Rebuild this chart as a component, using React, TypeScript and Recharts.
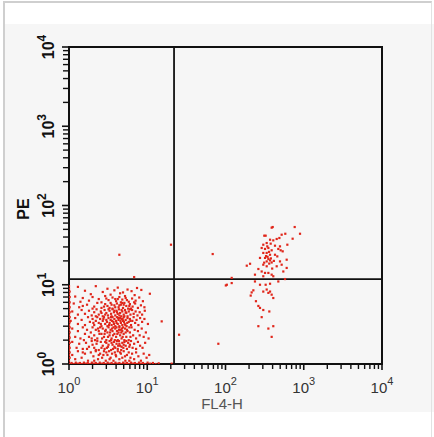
import React from "react";
import {
  ScatterChart,
  Scatter,
  XAxis,
  YAxis,
  ReferenceLine,
  ReferenceArea,
} from "recharts";

// ---------- axis ticks ----------
const decadeTicks = [1, 10, 100, 1000, 10000];
const minorSteps = [2, 3, 4, 5, 6, 7, 8, 9];
const allTicks: number[] = [];
decadeTicks.forEach((d, i) => {
  allTicks.push(d);
  if (i < decadeTicks.length - 1) minorSteps.forEach((m) => allTicks.push(d * m));
});

// ---------- quadrant gates ----------
const gateX = 22;
const gateY = 11.8;

// ---------- events: lower-left (negative) population ----------
const negTop: [number, number][] = [
  [1.3, 9.4], [2.2, 9.6], [3.1, 8.9], [4.2, 9.2], [5.6, 8.7], [7.4, 9.1], [1.6, 8.4], [2.7, 8.1],
  [3.8, 8.5], [4.9, 8.0], [6.3, 8.3], [8.4, 8.6], [10.8, 7.7], [1.9, 7.6], [3.4, 7.5], [4.5, 7.8],
  [5.2, 7.2], [6.9, 7.4],
  [1.2, 7.1], [1.5, 6.8], [2.0, 7.0], [2.4, 6.6], [2.9, 7.2], [3.2, 6.4], [3.6, 6.9], [4.0, 6.2],
  [4.4, 7.0], [4.8, 6.5], [5.3, 6.8], [5.8, 6.1], [6.4, 6.7], [7.1, 6.3], [7.9, 6.9], [8.8, 6.2],
  [1.4, 6.1], [1.8, 6.3], [2.6, 6.0], [3.9, 6.6], [4.6, 6.0], [5.5, 6.4], [6.8, 6.0], [3.0, 6.7],
  [4.2, 6.6],
];

const negUpper: [number, number][] = [
  [1.15, 5.8], [1.35, 5.2], [1.7, 5.6], [2.1, 5.3], [2.3, 5.9], [2.6, 5.1], [2.9, 5.7], [3.1, 5.4],
  [3.4, 5.9], [3.6, 5.0], [3.8, 5.5], [4.1, 5.8], [4.3, 5.2], [4.6, 5.6], [4.9, 5.1], [5.1, 5.9],
  [5.4, 5.4], [5.7, 5.0], [6.0, 5.7], [6.5, 5.3], [7.0, 5.8], [7.6, 5.1], [8.3, 5.5], [9.2, 5.2],
  [2.0, 5.0], [2.8, 5.3], [3.3, 5.1], [4.4, 5.5], [5.0, 5.6], [6.2, 5.0], [1.5, 5.4], [3.9, 5.2],
  [4.8, 5.9], [5.9, 5.4], [3.5, 5.6],
  [1.1, 4.6], [1.3, 4.2], [1.45, 4.8], [1.6, 4.3], [1.8, 4.7], [1.95, 4.1], [2.1, 4.5], [2.25, 4.9],
  [2.4, 4.2], [2.55, 4.6], [2.7, 4.0], [2.85, 4.8], [3.0, 4.4], [3.15, 4.1], [3.3, 4.7], [3.45, 4.3],
  [3.6, 4.9], [3.75, 4.5], [3.9, 4.1], [4.05, 4.7], [4.2, 4.3], [4.35, 4.9], [4.5, 4.4], [4.65, 4.0],
  [4.8, 4.6], [5.0, 4.2], [5.2, 4.8], [5.4, 4.4], [5.6, 4.0], [5.8, 4.6], [6.1, 4.2], [6.4, 4.8],
  [6.7, 4.3], [7.1, 4.6], [7.5, 4.1], [8.0, 4.5], [8.6, 4.2], [9.3, 4.7], [2.2, 4.0], [2.9, 4.2],
  [3.5, 4.0], [4.1, 4.5], [4.7, 4.8], [5.3, 4.5], [6.0, 4.9], [3.2, 4.9], [2.6, 4.4], [4.4, 4.1],
  [5.1, 4.0], [3.8, 4.7],
];

const negMiddle: [number, number][] = [
  [1.05, 3.5], [1.2, 3.8], [1.3, 3.2], [1.45, 3.6], [1.6, 3.1], [1.75, 3.9], [1.85, 3.4], [2.0, 3.7],
  [2.1, 3.1], [2.2, 3.5], [2.3, 3.9], [2.4, 3.3], [2.5, 3.7], [2.6, 3.0], [2.7, 3.5], [2.8, 3.9],
  [2.9, 3.2], [3.0, 3.6], [3.1, 3.0], [3.2, 3.8], [3.3, 3.3], [3.4, 3.6], [3.5, 3.1], [3.6, 3.9],
  [3.7, 3.4], [3.8, 3.7], [3.9, 3.0], [4.0, 3.5], [4.1, 3.9], [4.2, 3.2], [4.3, 3.6], [4.4, 3.0],
  [4.5, 3.8], [4.6, 3.3], [4.7, 3.7], [4.8, 3.1], [4.9, 3.5], [5.0, 3.9], [5.15, 3.2], [5.3, 3.6],
  [5.45, 3.0], [5.6, 3.8], [5.8, 3.4], [6.0, 3.7], [6.2, 3.1], [6.45, 3.5], [6.7, 3.9], [7.0, 3.3],
  [7.3, 3.6], [7.7, 3.1], [8.1, 3.8], [8.6, 3.4], [9.2, 3.7], [10.2, 3.2], [2.05, 3.3], [2.55, 3.2],
  [3.05, 3.4], [3.55, 3.5], [4.05, 3.3], [4.55, 3.5], [5.05, 3.4], [5.55, 3.3], [3.25, 3.1], [3.75, 3.2],
  [4.25, 3.8], [2.75, 3.7], [3.45, 3.9], [4.85, 3.7], [5.25, 3.1], [6.1, 3.5],
  [1.1, 2.8], [1.2, 2.2], [1.3, 2.6], [1.4, 2.1], [1.5, 2.9], [1.6, 2.4], [1.7, 2.7], [1.8, 2.2],
  [1.9, 2.5], [2.0, 2.9], [2.1, 2.3], [2.2, 2.7], [2.3, 2.1], [2.4, 2.6], [2.5, 2.9], [2.6, 2.4],
  [2.7, 2.8], [2.8, 2.2], [2.9, 2.6], [3.0, 2.0], [3.1, 2.5], [3.2, 2.9], [3.3, 2.3], [3.4, 2.7],
  [3.5, 2.1], [3.6, 2.6], [3.7, 2.9], [3.8, 2.4], [3.9, 2.8], [4.0, 2.2], [4.1, 2.6], [4.2, 2.0],
  [4.3, 2.5], [4.4, 2.9], [4.5, 2.3], [4.6, 2.7], [4.7, 2.1], [4.8, 2.6], [4.9, 2.9], [5.0, 2.4],
  [5.2, 2.8], [5.4, 2.2], [5.6, 2.6], [5.8, 2.0], [6.0, 2.5], [6.3, 2.9], [6.6, 2.3], [6.9, 2.7],
  [7.2, 2.1], [7.6, 2.6], [8.0, 2.3], [8.5, 2.8], [9.0, 2.2], [9.6, 2.5], [10.4, 2.1], [2.15, 2.0],
  [2.65, 2.1], [3.15, 2.2], [3.65, 2.3], [4.15, 2.4], [4.65, 2.5], [5.1, 2.0], [5.5, 2.7], [5.9, 2.9],
  [3.35, 2.5], [3.85, 2.0], [2.45, 2.4], [2.95, 2.7], [4.35, 2.7], [4.85, 2.2], [3.55, 2.8], [4.05, 2.9],
  [2.35, 2.8], [5.3, 2.5], [6.1, 2.2], [1.55, 2.0], [1.95, 2.1], [3.45, 2.0], [4.75, 2.8], [2.85, 2.4],
];

const negLower: [number, number][] = [
  [1.1, 1.9], [1.25, 1.6], [1.35, 1.8], [1.5, 1.55], [1.65, 1.85], [1.8, 1.65], [1.95, 1.95], [2.1, 1.6],
  [2.25, 1.8], [2.4, 1.5], [2.55, 1.9], [2.7, 1.7], [2.85, 1.55], [3.0, 1.85], [3.15, 1.65], [3.3, 1.95],
  [3.45, 1.5], [3.6, 1.75], [3.75, 1.9], [3.9, 1.6], [4.05, 1.8], [4.2, 1.55], [4.35, 1.95], [4.5, 1.7],
  [4.65, 1.5], [4.8, 1.85], [4.95, 1.6], [5.1, 1.9], [5.3, 1.7], [5.5, 1.55], [5.7, 1.85], [5.9, 1.65],
  [6.2, 1.95], [6.5, 1.6], [6.8, 1.8], [7.2, 1.55], [7.6, 1.9], [8.1, 1.7], [8.7, 1.6], [9.4, 1.85],
  [2.0, 1.75], [2.6, 1.6], [3.2, 1.75], [3.8, 1.65], [4.4, 1.8], [5.0, 1.75], [2.3, 1.95], [2.9, 1.9],
  [3.5, 1.85], [4.1, 1.95], [4.7, 1.65], [5.4, 1.95], [6.0, 1.75], [1.7, 1.55], [2.2, 1.5], [3.05, 1.6],
  [3.65, 1.55], [4.25, 1.7],
  [1.1, 1.3], [1.2, 1.15], [1.3, 1.45], [1.45, 1.2], [1.6, 1.35], [1.75, 1.1], [1.9, 1.4], [2.05, 1.25],
  [2.2, 1.45], [2.35, 1.15], [2.5, 1.35], [2.65, 1.2], [2.8, 1.45], [2.95, 1.1], [3.1, 1.3], [3.25, 1.45],
  [3.4, 1.2], [3.55, 1.35], [3.7, 1.1], [3.85, 1.4], [4.0, 1.25], [4.2, 1.45], [4.4, 1.15], [4.6, 1.35],
  [4.8, 1.2], [5.0, 1.45], [5.25, 1.1], [5.5, 1.3], [5.8, 1.4], [6.1, 1.2], [6.4, 1.35], [6.8, 1.15],
  [7.2, 1.4], [7.7, 1.25], [8.3, 1.1], [9.0, 1.35], [9.8, 1.2], [10.6, 1.3], [2.1, 1.1], [2.75, 1.3],
  [3.3, 1.15], [3.95, 1.3], [4.5, 1.4], [5.2, 1.25], [5.9, 1.1], [1.5, 1.4], [2.4, 1.3], [3.0, 1.4],
];

// events piled up on the bottom edge and on the left edge
const negFloor: [number, number][] = [
  [1.02, 1.01], [1.08, 1.03], [1.15, 1.0], [1.22, 1.04], [1.3, 1.01], [1.38, 1.03], [1.46, 1.0], [1.55, 1.04],
  [1.64, 1.01], [1.74, 1.03], [1.85, 1.0], [1.96, 1.04], [2.08, 1.01], [2.2, 1.03], [2.33, 1.0], [2.47, 1.04],
  [2.62, 1.01], [2.78, 1.03], [2.95, 1.0], [3.12, 1.04], [3.3, 1.01], [3.5, 1.03], [3.7, 1.0], [3.92, 1.04],
  [4.15, 1.01], [4.4, 1.03], [4.65, 1.0], [4.92, 1.04], [5.2, 1.01], [5.5, 1.03], [5.85, 1.0], [6.2, 1.04],
  [6.55, 1.01], [6.95, 1.03], [7.4, 1.0], [7.85, 1.04], [8.3, 1.01], [8.8, 1.03], [9.4, 1.0], [10.1, 1.04],
  [10.9, 1.01], [11.8, 1.03], [12.8, 1.0], [14.0, 1.02], [20.5, 1.01],
];
const negWall: [number, number][] = [
  [1.0, 1.1], [1.02, 1.2], [1.0, 1.3], [1.02, 1.4], [1.0, 1.5], [1.02, 1.6], [1.0, 1.7], [1.02, 1.85],
  [1.0, 2.0], [1.02, 2.15], [1.0, 2.3], [1.02, 2.5], [1.0, 2.7], [1.02, 2.9], [1.0, 3.1], [1.02, 3.35],
  [1.0, 3.6], [1.02, 3.9], [1.0, 4.2], [1.02, 4.5], [1.0, 4.85], [1.02, 5.2], [1.0, 5.6], [1.02, 6.0],
  [1.0, 6.5], [1.02, 7.0], [1.0, 7.6], [1.02, 8.2], [1.0, 8.9], [1.0, 9.6],
];

// ---------- events: FL4-positive population ----------
const posCluster: [number, number][] = [
  [401, 53.5], [389, 52.5], [766, 53.5], [896, 44], [313, 41.6], [326, 41.6], [522, 42.8], [488, 38.9],
  [451, 37.8], [408, 36.3], [371, 37], [581, 44], [721, 38.1], [617, 32], [304, 32], [336, 33.6],
  [378, 33], [429, 31.1], [497, 30.5], [290, 29.1], [320, 28.3], [353, 29.1], [389, 27.2], [473, 28.3],
  [507, 27.2], [538, 26.4], [304, 25.2], [336, 25.2], [371, 23.9], [429, 23.9], [459, 22.8], [276, 21.8],
  [320, 21.8], [353, 21.1], [371, 20.3], [389, 19.1], [336, 19.7], [497, 19.7], [605, 20.7], [206, 18.4],
  [187, 17.4], [304, 17.9], [336, 17.1], [451, 17.1], [522, 17.9], [605, 16.3], [263, 15.8], [290, 14.7],
  [320, 14.1], [353, 14.1], [389, 13.4], [238, 13.4], [304, 12.8], [408, 12.8], [548, 14.7], [345, 22.5],
  [362, 18.5], [380, 21.5], [330, 23], [395, 16], [415, 20], [360, 26], [342, 30.5], [312, 19],
  [120, 12.2], [120, 10.5], [101, 9.8], [238, 11.0], [276, 10.0], [326, 10.0], [371, 10.3], [473, 11.0],
  [576, 11.8], [227, 8.5], [216, 8.0], [210, 7.3], [304, 8.2], [336, 8.7], [371, 8.2], [389, 7.5],
  [353, 7.9], [408, 6.8], [245, 6.2], [263, 5.4], [276, 5.1], [304, 4.8], [363, 4.6], [290, 3.9],
  [263, 3.0], [353, 2.8], [408, 3.0], [389, 2.2],
];

// ---------- scattered single events ----------
const strayEvents: [number, number][] = [
  [4.4, 23.9], [20.1, 32], [6.8, 12.5], [15.3, 3.45], [25.5, 2.34], [68.6, 24.4], [81, 1.8], [104, 10.0],
];

const toPoints = (arr: [number, number][]) => arr.map(([x, y]) => ({ x, y }));
const allEvents = [
  ...toPoints(negTop),
  ...toPoints(negUpper),
  ...toPoints(negMiddle),
  ...toPoints(negLower),
  ...toPoints(negFloor),
  ...toPoints(negWall),
  ...toPoints(posCluster),
  ...toPoints(strayEvents),
];

const DOT = "#e0261a";

const isDecade = (v: number) => Math.abs(Math.log10(v) - Math.round(Math.log10(v))) < 1e-9;

const XTick = (props: any) => {
  const { x, y, payload } = props;
  const v = payload.value as number;
  const major = isDecade(v);
  const e = Math.round(Math.log10(v));
  return (
    <g>
      <line x1={x} x2={x} y1={y} y2={y + (major ? 6 : 5)} stroke="#111" strokeWidth={major ? 1.6 : 1.4} />
      {major && (
        <text
          x={x}
          y={y + 29}
          textAnchor="middle"
          fontFamily="'Liberation Sans', Arial, sans-serif"
          fontSize={15}
          fill="#333"
        >
          10
          <tspan dy={-8} fontSize={11}>
            {e}
          </tspan>
        </text>
      )}
    </g>
  );
};

const YTick = (props: any) => {
  const { x, y, payload } = props;
  const v = payload.value as number;
  const major = isDecade(v);
  const e = Math.round(Math.log10(v));
  const tx = 54;
  return (
    <g>
      <line x1={x} x2={x - (major ? 7 : 6)} y1={y} y2={y} stroke="#111" strokeWidth={major ? 1.6 : 1.4} />
      {major && (
        <text
          x={tx}
          y={y}
          transform={`rotate(-90, ${tx}, ${y})`}
          textAnchor="middle"
          fontFamily="'Liberation Sans', Arial, sans-serif"
          fontSize={16}
          fontWeight="bold"
          fill="#111"
        >
          10
          <tspan dy={-8} fontSize={12}>
            {e}
          </tspan>
        </text>
      )}
    </g>
  );
};

const DotShape = (props: any) => {
  const { cx, cy } = props;
  if (cx == null || cy == null) return null;
  return <rect x={cx - 1.1} y={cy - 1.1} width={2.2} height={2.2} fill={DOT} />;
};

export default function App() {
  return (
    <div
      style={{
        position: "absolute",
        left: 0,
        top: 0,
        width: 434,
        height: 437,
        background: "#ffffff",
        overflow: "hidden",
      }}
    >
      <div
        style={{
          position: "absolute",
          left: 4,
          top: 24,
          width: 430,
          height: 388,
          background: "#f6f6f6",
        }}
      />
      <div
        style={{
          position: "absolute",
          left: 3,
          top: 1,
          width: 429,
          height: 436,
          borderLeft: "2px solid #cfcfcf",
          borderTop: "2px solid #cfcfcf",
          borderRight: "1px solid #e2e2e2",
          boxSizing: "border-box",
        }}
      />
      <div style={{ position: "absolute", left: 0, top: 0 }}>
        <ScatterChart width={434} height={437} margin={{ top: 47, right: 52, left: 0, bottom: 0 }}>
          <XAxis
            type="number"
            dataKey="x"
            scale="log"
            domain={[1, 10000]}
            allowDataOverflow
            ticks={allTicks}
            interval={0}
            tick={<XTick />}
            tickLine={false}
            tickSize={0}
            tickMargin={0}
            axisLine={false}
            height={73}
          />
          <YAxis
            type="number"
            dataKey="y"
            scale="log"
            domain={[1, 10000]}
            allowDataOverflow
            ticks={allTicks}
            interval={0}
            tick={<YTick />}
            tickLine={false}
            tickSize={0}
            tickMargin={0}
            axisLine={false}
            width={69}
          />
          <Scatter data={allEvents} shape={<DotShape />} isAnimationActive={false} />
          <ReferenceLine x={gateX} stroke="#111" strokeWidth={1.8} ifOverflow="visible" />
          <ReferenceLine y={gateY} stroke="#111" strokeWidth={1.8} ifOverflow="visible" />
          <ReferenceArea
            x1={1}
            x2={10000}
            y1={1}
            y2={10000}
            fill="none"
            fillOpacity={0}
            stroke="#111"
            strokeWidth={2}
            ifOverflow="visible"
          />
        </ScatterChart>
      </div>
      <div
        style={{
          position: "absolute",
          left: 172,
          top: 395,
          width: 100,
          textAlign: "center",
          fontFamily: "'Liberation Sans', Arial, sans-serif",
          fontSize: 15,
          color: "#555",
          lineHeight: "17px",
        }}
      >
        FL4-H
      </div>
      <div
        style={{
          position: "absolute",
          left: 24,
          top: 209,
          transform: "translate(-50%, -50%) rotate(-90deg)",
          fontFamily: "'Liberation Sans', Arial, sans-serif",
          fontSize: 16,
          fontWeight: "bold",
          color: "#111",
          lineHeight: "16px",
          whiteSpace: "nowrap",
        }}
      >
        PE
      </div>
    </div>
  );
}
